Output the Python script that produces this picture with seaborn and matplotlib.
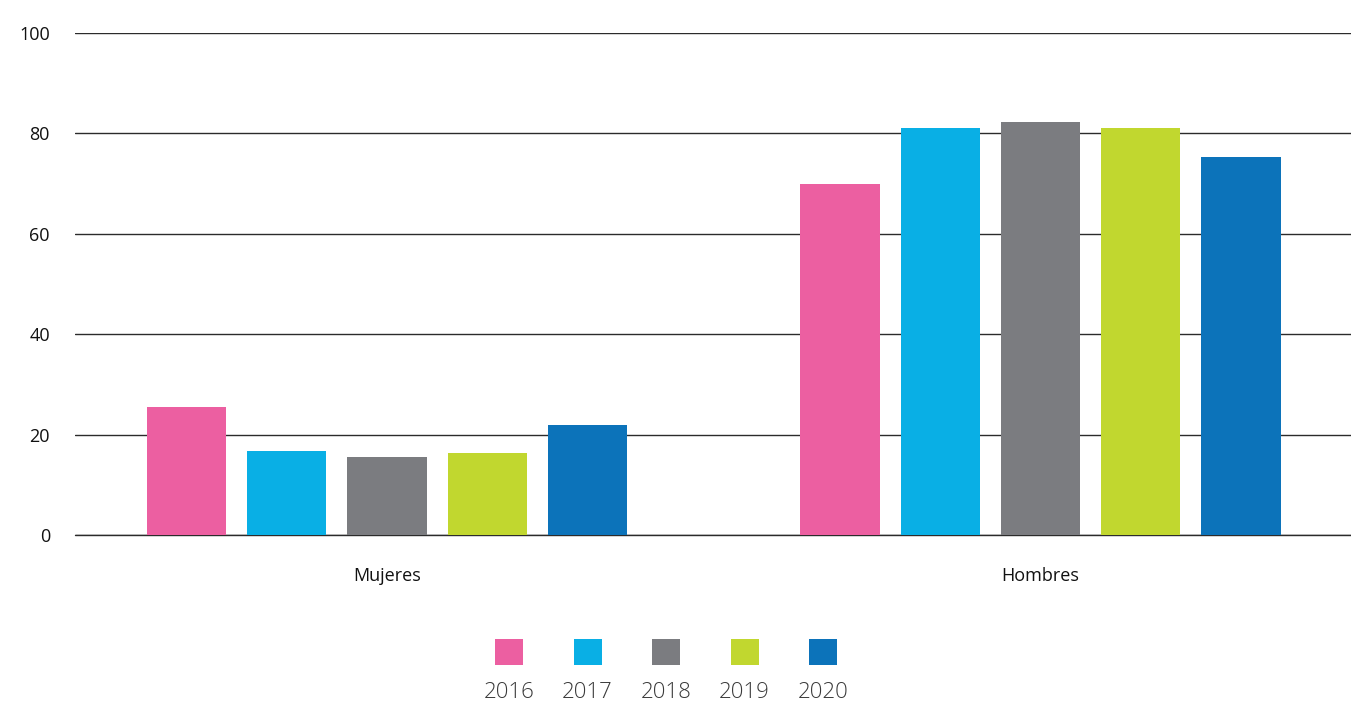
import matplotlib
matplotlib.use("Agg")
import matplotlib.pyplot as plt
from matplotlib.patches import Patch
import seaborn as sns
import pandas as pd

# Data
grupos = ["Mujeres", "Hombres"]
anios = ["2016", "2017", "2018", "2019", "2020"]
mujeres = [25.5, 16.7, 15.6, 16.4, 22.0]
hombres = [69.9, 81.0, 82.2, 81.0, 75.3]
colores = ["#EC5FA1", "#09AFE5", "#7B7C80", "#C1D72F", "#0C73BA"]
yticks = [0, 20, 40, 60, 80, 100]

df = pd.DataFrame({
    "grupo": [g for g in grupos for _ in anios],
    "anio": anios * 2,
    "valor": mujeres + hombres,
})

sns.set_theme(style="white")
plt.rcParams["font.family"] = ["Open Sans", "DejaVu Sans"]

W, H = 1351, 705
fig = plt.figure(figsize=(W / 100, H / 100), dpi=100)
ax = fig.add_axes([75 / W, 170 / H, 1276 / W, 502 / H])

sns.barplot(
    data=df, x="grupo", y="valor", hue="anio", order=grupos, hue_order=anios,
    palette=colores, width=0.767, gap=0.21, saturation=1, legend=False,
    ax=ax, errorbar=None, linewidth=0,
)

ax.set_xlim(-0.4774, 1.475)
ax.set_ylim(0, 100)
ax.set_yticks(yticks)
ax.set_yticklabels([str(t) for t in yticks], fontsize=13, color="#111111")
ax.set_xlabel("")
ax.set_ylabel("")
ax.tick_params(axis="y", length=0, pad=18)
ax.tick_params(axis="x", length=0, pad=23, labelsize=13, labelcolor="#111111")
ax.yaxis.grid(True, color="#2b2b2b", linewidth=1.0)
ax.xaxis.grid(False)
ax.set_axisbelow(True)
# baseline at zero, drawn unclipped so it keeps its full width
ax.axhline(0, color="#2b2b2b", linewidth=1.0, clip_on=False, zorder=0.5)
for s in ax.spines.values():
    s.set_visible(False)

# Legend: coloured squares with the year underneath each
handles = [Patch(facecolor=c, edgecolor="none") for c in colores]
leg = fig.legend(
    handles, [""] * len(anios), loc="center", bbox_to_anchor=(666 / W, 53 / H),
    ncol=len(anios), frameon=False, fontsize=10, handlelength=2.016,
    handleheight=2.6, handletextpad=0, columnspacing=3.636, borderpad=0,
)
fig.canvas.draw()
renderer = fig.canvas.get_renderer()
for h, lab in zip(leg.legend_handles, anios):
    bb = h.get_window_extent(renderer)
    cx = (bb.x0 + bb.x1) / 2
    fig.text(cx / W, 12 / H, lab, ha="center", va="center", fontsize=16,
             color="#3a3a3a", family=["Open Sans", "DejaVu Sans"],
             fontweight="light")

fig.savefig("out.png", dpi=100, facecolor="white")
